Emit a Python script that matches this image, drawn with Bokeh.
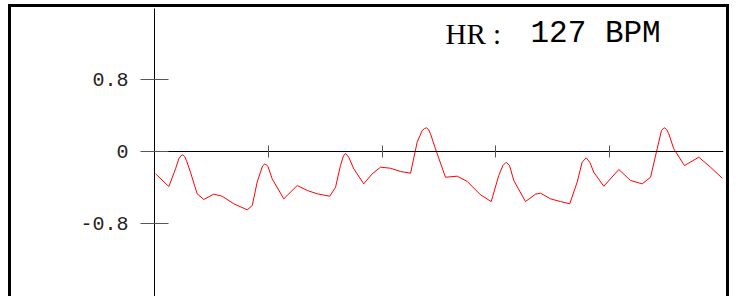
from bokeh.plotting import figure
from bokeh.models import Range1d, FixedTicker, Label
from bokeh.embed import file_html
from bokeh.resources import INLINE

# time (s) and ECG-like amplitude
t = [0.01, 0.126, 0.185, 0.214, 0.232, 0.249, 0.265, 0.281, 0.316, 0.375, 0.433, 0.521,
     0.595, 0.697, 0.815, 0.859, 0.902, 0.931, 0.950, 0.967, 0.982, 0.996, 1.034, 1.136,
     1.254, 1.342, 1.430, 1.540, 1.591, 1.634, 1.660, 1.678, 1.707, 1.751, 1.839, 1.913,
     1.986, 2.074, 2.162, 2.250, 2.308, 2.352, 2.372, 2.390, 2.408, 2.425, 2.469, 2.557,
     2.660, 2.748, 2.865, 2.959, 3.025, 3.061, 3.090, 3.120, 3.157, 3.260, 3.348, 3.392,
     3.480, 3.568, 3.649, 3.714, 3.758, 3.793, 3.825, 3.860, 3.948, 4.080, 4.183, 4.286,
     4.359, 4.417, 4.455, 4.470, 4.484, 4.500, 4.519, 4.563, 4.657, 4.783, 4.886, 4.989]
v = [-0.248, -0.389, -0.192, -0.080, -0.048, -0.037, -0.055, -0.100, -0.230, -0.470,
     -0.533, -0.474, -0.497, -0.581, -0.648, -0.600, -0.341, -0.230, -0.160, -0.141,
     -0.148, -0.163, -0.303, -0.526, -0.378, -0.433, -0.470, -0.497, -0.397, -0.156,
     -0.050, -0.022, -0.063, -0.192, -0.359, -0.248, -0.174, -0.186, -0.222, -0.241,
     0.103, 0.233, 0.255, 0.263, 0.245, 0.197, 0.030, -0.286, -0.274, -0.333, -0.481,
     -0.556, -0.267, -0.156, -0.119, -0.156, -0.322, -0.556, -0.474, -0.463, -0.526,
     -0.556, -0.581, -0.341, -0.119, -0.070, -0.119, -0.230, -0.386, -0.200, -0.322,
     -0.359, -0.286, 0.030, 0.233, 0.255, 0.263, 0.245, 0.197, 0.030, -0.156, -0.063,
     -0.174, -0.297]

y_ticks = [-0.8, 0, 0.8]
y_tick_labels = {-0.8: "-0.8", 0: "0", 0.8: "0.8"}
x_ticks = [1, 2, 3, 4]
hr_label = "HR :"
hr_value = "127 BPM"

p = figure(frame_width=569, frame_height=288,
           x_range=Range1d(0, 5), y_range=Range1d(-1.611, 1.589),
           output_backend="svg", toolbar_location=None,
           min_border_left=143, min_border_right=3, min_border_top=1, min_border_bottom=0)
p.styles = {"border": "3px solid black", "margin-left": "8px", "margin-top": "4px"}
p.outline_line_color = None
p.grid.visible = False
p.background_fill_color = "white"
p.border_fill_color = "white"

# y axis at frame left
ya = p.yaxis[0]
ya.ticker = FixedTicker(ticks=y_ticks)
ya.major_label_overrides = y_tick_labels
ya.major_tick_in = 14
ya.major_tick_out = 14
ya.minor_tick_line_color = None
ya.major_label_standoff = 12
ya.major_label_text_font = "Liberation Mono"
ya.major_label_text_font_size = "20px"
ya.major_label_text_color = "#222222"
ya.axis_line_color = "black"
ya.major_tick_line_color = "#555555"

# x axis through zero, ticks only
xa = p.xaxis[0]
xa.fixed_location = 0
xa.ticker = FixedTicker(ticks=x_ticks)
xa.major_tick_in = 6
xa.major_tick_out = 6
xa.minor_tick_line_color = None
xa.major_label_text_font_size = "1px"
xa.major_label_text_color = None
xa.axis_line_color = "black"
xa.major_tick_line_color = "#555555"

p.line(t, v, line_color="#ff0000", line_width=1, line_join="round")

p.add_layout(Label(x=2.557, y=1.311, text=hr_label, text_font="Liberation Serif",
                   text_font_size="29px", text_color="black", text_baseline="alphabetic"))
p.add_layout(Label(x=3.304, y=1.311, text=hr_value, text_font="Liberation Mono",
                   text_font_size="31px", text_color="black", text_baseline="alphabetic"))

open("out.html", "w").write(file_html(p, INLINE))
